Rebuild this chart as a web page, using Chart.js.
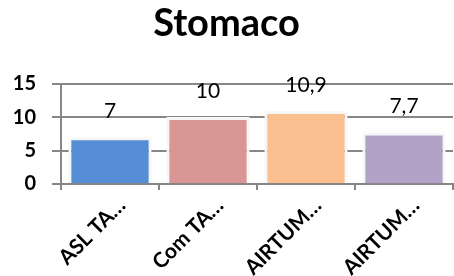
<!DOCTYPE html>
<html>
<head>
<meta charset="utf-8">
<script src="https://cdn.jsdelivr.net/npm/chart.js@4/dist/chart.umd.min.js"></script>
<style>
  html, body { margin: 0; padding: 0; background: #fff; }
  #wrap { width: 454px; height: 276px; }
</style>
</head>
<body>
<div id="wrap"><canvas id="chart" width="454" height="276"></canvas></div>
<script>
// dati del grafico
var categorie = ['ASL TA…', 'Com TA…', 'AIRTUM…', 'AIRTUM…'];
var valori = [7, 10, 10.9, 7.7];
var colori = ['#558ED5', '#D99694', '#FAC090', '#B3A2C7'];
var tickY = [0, 5, 10, 15];

var grigio = '#868686';

// etichette dei valori sopra le barre
var etichette = {
  id: 'etichette',
  afterDatasetsDraw: function (chart) {
    var ctx = chart.ctx;
    var meta = chart.getDatasetMeta(0);
    ctx.save();
    ctx.font = '21px Lato';
    ctx.fillStyle = '#000';
    ctx.textAlign = 'center';
    ctx.textBaseline = 'alphabetic';
    meta.data.forEach(function (bar, i) {
      var testo = String(valori[i]).replace('.', ',');
      ctx.fillText(testo, bar.x, bar.y - 19);
    });
    ctx.restore();
  }
};

new Chart(document.getElementById('chart').getContext('2d'), {
  type: 'bar',
  data: {
    labels: categorie,
    datasets: [{
      data: valori,
      backgroundColor: colori,
      borderColor: '#f7f7f7',
      borderWidth: 3,
      barPercentage: 0.85,
      categoryPercentage: 1
    }]
  },
  options: {
    responsive: false,
    animation: false,
    layout: { padding: { right: 1 } },
    plugins: {
      legend: { display: false },
      tooltip: { enabled: false },
      title: {
        display: true,
        text: 'Stomaco',
        color: '#000',
        font: { family: 'Lato', size: 38, weight: 'bold' },
        padding: { top: 1, bottom: 37 }
      }
    },
    scales: {
      x: {
        afterFit: function (s) { s.height = 92; },
        border: { display: true, color: grigio, width: 2 },
        grid: { offset: true, drawOnChartArea: false, drawTicks: true, tickLength: 6, color: grigio, lineWidth: 2 },
        ticks: {
          color: '#000',
          font: { family: 'Lato', size: 21, weight: 'bold' },
          maxRotation: 45,
          minRotation: 45,
          labelOffset: 12,
          autoSkip: false
        }
      },
      y: {
        min: 0,
        max: 15,
        afterFit: function (s) { s.width = 61; },
        afterBuildTicks: function (s) { s.ticks = tickY.map(function (v) { return { value: v }; }); },
        border: { display: true, color: grigio, width: 2 },
        grid: { color: grigio, lineWidth: 2, tickLength: 9 },
        ticks: {
          color: '#000',
          padding: 16,
          font: { family: 'Lato', size: 20, weight: 'bold' }
        }
      }
    }
  },
  plugins: [etichette]
});
</script>
</body>
</html>
